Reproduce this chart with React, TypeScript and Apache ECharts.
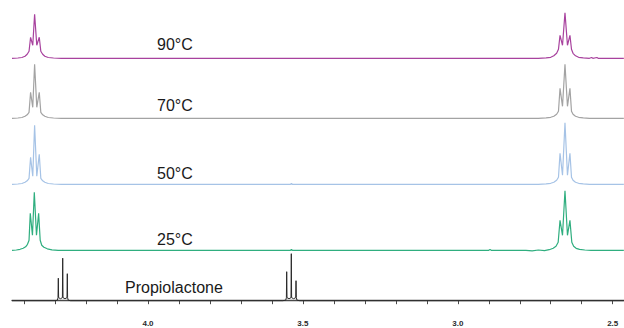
import React, { useEffect, useRef } from "react";
import * as echarts from "echarts";

// Spectrum labels and colours (top to bottom)
const spectrumNames = ["90°C", "70°C", "50°C", "25°C", "Propiolactone"];
const spectrumColors = ["#a8429e", "#a3a3a3", "#a6c3e6", "#2fae7f", "#2a2a2a"];

// chemical shift (ppm), intensity (arbitrary units, ~px above baseline)
const spec90: [number, number][] = [
  [4.439, 0], [4.420, 0.3], [4.407, 0.8], [4.397, 2], [4.390, 4], [4.384, 7],
  [4.379, 21], [4.372, 13], [4.366, 44], [4.359, 13], [4.351, 21],
  [4.346, 7], [4.340, 4], [4.333, 2], [4.322, 0.8], [4.305, 0.3], [4.280, 0],
  [2.740, 0], [2.715, 0.4], [2.700, 1], [2.690, 2.5], [2.681, 5], [2.675, 9],
  [2.670, 23], [2.662, 13], [2.654, 45.5], [2.646, 13], [2.638, 23],
  [2.633, 9], [2.628, 5], [2.620, 2.5], [2.610, 1], [2.595, 0.4], [2.575, 0],
  [2.568, 0.8], [2.564, 0], [2.551, 0.8], [2.547, 0], [2.464, 0],
];
const spec70: [number, number][] = [
  [4.439, 0], [4.420, 0.3], [4.407, 0.8], [4.397, 2], [4.390, 3.5], [4.384, 6],
  [4.379, 26], [4.372, 11], [4.366, 54], [4.359, 11], [4.351, 26],
  [4.346, 6], [4.340, 3.5], [4.333, 2], [4.322, 0.8], [4.305, 0.3], [4.280, 0],
  [2.740, 0], [2.715, 0.4], [2.700, 1], [2.690, 2], [2.681, 4], [2.675, 7],
  [2.670, 30], [2.662, 12], [2.654, 54], [2.646, 12], [2.638, 30],
  [2.633, 7], [2.628, 4], [2.620, 2], [2.610, 1], [2.595, 0.4], [2.575, 0],
  [2.464, 0],
];
const spec50: [number, number][] = [
  [4.439, 0], [4.420, 0.3], [4.407, 0.8], [4.397, 2], [4.390, 3.5], [4.384, 6],
  [4.379, 27], [4.372, 8], [4.366, 59], [4.359, 8], [4.351, 30],
  [4.346, 6], [4.340, 3.5], [4.333, 2], [4.322, 0.8], [4.305, 0.3], [4.280, 0],
  [3.540, 0], [3.537, 0.8], [3.534, 0],
  [2.740, 0], [2.715, 0.4], [2.700, 1], [2.690, 2], [2.681, 4], [2.675, 7],
  [2.670, 31], [2.662, 9], [2.654, 61.5], [2.646, 9], [2.638, 31],
  [2.633, 7], [2.628, 4], [2.620, 2], [2.610, 1], [2.595, 0.4], [2.575, 0],
  [2.464, 0],
];
const spec25: [number, number][] = [
  [4.439, 0], [4.425, 0.3], [4.413, 1], [4.403, 2], [4.395, 3.5], [4.389, 6],
  [4.384, 10], [4.380, 37], [4.373, 15], [4.367, 58], [4.360, 15], [4.353, 37],
  [4.348, 10], [4.343, 5], [4.336, 3], [4.325, 1.5], [4.310, 0.5], [4.290, 0],
  [3.540, 0], [3.537, 0.8], [3.534, 0],
  [2.900, 0], [2.896, 0.8], [2.892, 0],
  [2.780, 0], [2.760, -0.5], [2.740, 0.3], [2.720, -0.3], [2.705, 0.6],
  [2.692, 2], [2.683, 4], [2.676, 8],
  [2.670, 30], [2.662, 15], [2.654, 59.5], [2.646, 15], [2.638, 30],
  [2.632, 8], [2.626, 4], [2.618, 2], [2.607, 1], [2.590, 0.3], [2.570, 0],
  [2.464, 0],
];
const specLactone: [number, number][] = [
  [4.439, 0], [4.300, 0], [4.2925, 0.5], [4.2905, 3], [4.2895, 22.5], [4.2885, 3],
  [4.2824, 2], [4.2763, 3], [4.2753, 42.5], [4.2743, 3],
  [4.2679, 2], [4.2615, 3], [4.2605, 27], [4.2595, 3], [4.2575, 0.5], [4.250, 0],
  [3.565, 0], [3.5555, 0.5], [3.5533, 3], [3.5523, 29], [3.5513, 3],
  [3.5448, 2], [3.5384, 3], [3.5374, 47], [3.5364, 3],
  [3.5300, 2], [3.5232, 3], [3.5222, 20], [3.5212, 3], [3.519, 0.5], [3.510, 0],
  [2.464, 0],
];
const spectra = [spec90, spec70, spec50, spec25, specLactone];

// x axis
const xMin = 2.4635;
const xMax = 4.439;
const tickValues = [4.4, 4.3, 4.2, 4.1, 4.0, 3.9, 3.8, 3.7, 3.6, 3.5, 3.4, 3.3, 3.2, 3.1, 3.0, 2.9, 2.8, 2.7, 2.6, 2.5];
const tickLabels = [4.0, 3.5, 3.0, 2.5];

// layout (pixels)
const baselines = [58.3, 118.3, 184.3, 250.3, 300.7];
const labelPos = [
  [157, 44.5],
  [157, 105.5],
  [157, 173],
  [157, 239],
  [125, 287],
];

export default function App() {
  const ref = useRef<HTMLDivElement>(null);
  useEffect(() => {
    document.body.style.margin = "0";
    const chart = echarts.init(ref.current!, null, { renderer: "svg" });
    const n = spectra.length;
    const grids = spectra.map((_, i) =>
      i < n - 1
        ? { left: 12, right: 0, top: baselines[i] - 40, height: 40 }
        : { left: 12, right: 0, top: baselines[i] - 40, height: 52.3 }
    );
    const yAxes = spectra.map((_, i) => ({
      type: "value",
      gridIndex: i,
      min: i < n - 1 ? 0 : -12.3,
      max: 40,
      show: false,
      splitLine: { show: false },
    }));
    const xAxes = spectra.map((_, i) => ({
      type: "value",
      gridIndex: i,
      min: xMin,
      max: xMax,
      inverse: true,
      show: i === n - 1,
      splitLine: { show: false },
      axisLine: { show: true, lineStyle: { color: "#4a4a4a", width: 1.3 } },
      axisTick: {
        show: true,
        customValues: tickValues,
        length: 3.5,
        inside: false,
        lineStyle: { color: "#4a4a4a", width: 1 },
      },
      axisLabel: {
        show: true,
        customValues: tickLabels,
        formatter: (v: number) => v.toFixed(1),
        fontSize: 8,
        fontWeight: "bold",
        color: "#2b2b2b",
        margin: 6,
        fontFamily: "Liberation Sans, Arial, sans-serif",
      },
    }));
    const series = spectra.map((d, i) => ({
      type: "line",
      name: spectrumNames[i],
      xAxisIndex: i,
      yAxisIndex: i,
      data: d,
      showSymbol: false,
      symbol: "none",
      clip: false,
      lineStyle: { color: spectrumColors[i], width: i === n - 1 ? 1 : 1.2 },
      itemStyle: { color: spectrumColors[i] },
    }));
    const graphic = spectrumNames.map((name, i) => ({
      type: "text",
      x: labelPos[i][0],
      y: labelPos[i][1],
      style: {
        text: name,
        fontSize: 16,
        fontFamily: "Liberation Sans, Arial, sans-serif",
        fill: "#1a1a1a",
        verticalAlign: "middle",
        align: "left",
      },
    }));
    chart.setOption({
      animation: false,
      backgroundColor: "#ffffff",
      grid: grids,
      xAxis: xAxes,
      yAxis: yAxes,
      series,
      graphic,
    } as any);
    return () => chart.dispose();
  }, []);
  return <div ref={ref} style={{ width: 624, height: 328 }} />;
}
